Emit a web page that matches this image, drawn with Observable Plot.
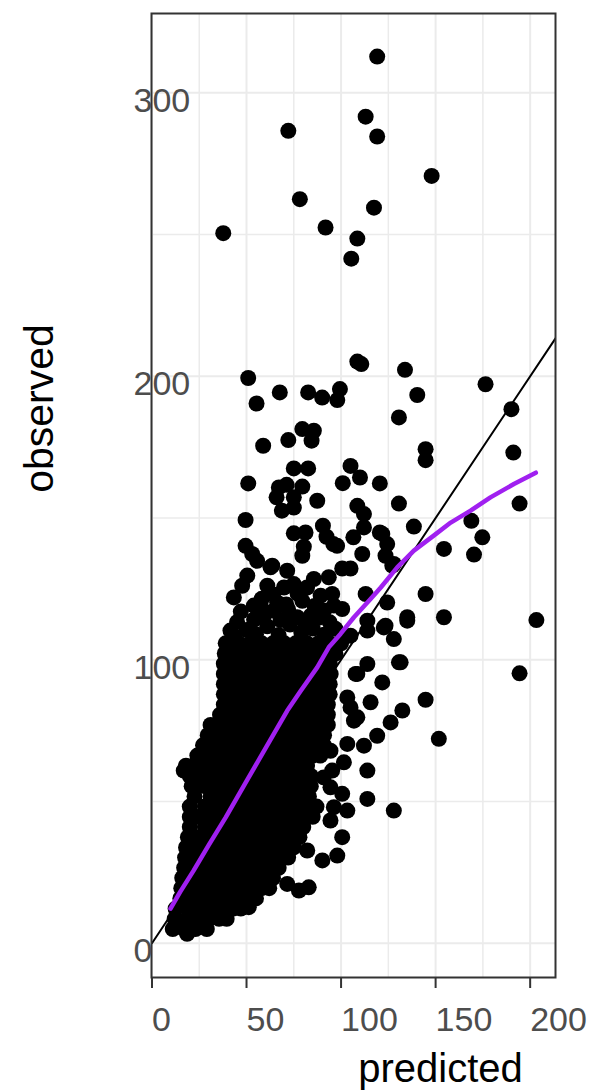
<!DOCTYPE html>
<html>
<head>
<meta charset="utf-8">
<script src="https://cdn.jsdelivr.net/npm/d3@7"></script>
<script src="https://cdn.jsdelivr.net/npm/@observablehq/plot@0.6"></script>
<style>
  html, body { margin: 0; padding: 0; background: #fff; }
  #chart svg { display: block; }
</style>
</head>
<body>
<div id="chart"></div>
<script>
// Axis breaks
const xMajor = [0, 50, 100, 150, 200];
const xMinor = [25, 75, 125, 175];
const yMajor = [0, 100, 200, 300];
const yMinor = [50, 150, 250];

// Dense part of the cloud: [observed, [predicted, ...]] per row
const coreRows = [
  [5.0, [11, 17, 23, 29]],
  [8.6, [12, 18.5, 24, 30, 35.5, 39.5]],
  [12.2, [12.5, 19, 25, 31, 37, 43, 47]],
  [15.8, [15, 21, 27, 33, 39, 45, 51, 55]],
  [19.4, [15.5, 22, 28, 34, 40, 46, 52, 58, 62]],
  [23.0, [16, 19, 25, 31, 37, 43, 49, 55, 61, 64]],
  [26.6, [17, 22, 28, 34, 40, 46, 52, 58, 64, 67]],
  [30.2, [17.5, 25, 31, 37, 43, 49, 55, 61, 67, 72]],
  [33.8, [18, 22, 28, 34, 40, 46, 52, 58, 64, 70, 75]],
  [37.4, [19, 25, 31, 37, 43, 49, 55, 61, 67, 73, 78]],
  [41.0, [20, 28, 34, 40, 46, 52, 58, 64, 70, 76, 80]],
  [44.6, [20, 25, 31, 37, 43, 49, 55, 61, 67, 73, 79, 85]],
  [48.2, [20, 28, 34, 40, 46, 52, 58, 64, 70, 76, 82, 87]],
  [51.8, [22.5, 31, 37, 43, 49, 55, 61, 67, 73, 79, 83]],
  [55.4, [21, 28, 34, 40, 46, 52, 58, 64, 70, 76, 82, 84]],
  [59.0, [20, 25, 31, 37, 43, 49, 55, 61, 67, 73, 79, 84]],
  [62.6, [18, 22, 28, 34, 40, 46, 52, 58, 64, 70, 76, 82]],
  [66.2, [24, 31, 37, 43, 49, 55, 61, 67, 73, 79, 85, 89]],
  [69.8, [27, 34, 40, 46, 52, 58, 64, 70, 76, 82, 88, 91]],
  [73.4, [29.5, 37, 43, 49, 55, 61, 67, 73, 79, 85, 91]],
  [77.0, [31, 34, 40, 46, 52, 58, 64, 70, 76, 82, 88, 93]],
  [80.6, [36, 43, 49, 55, 61, 67, 73, 79, 85, 91, 93]],
  [84.2, [38, 40, 46, 52, 58, 64, 70, 76, 82, 88, 93]],
  [87.8, [38, 43, 49, 55, 61, 67, 73, 79, 85, 91, 94]],
  [91.4, [38, 40, 46, 52, 58, 64, 70, 76, 82, 88, 94]],
  [95.0, [38, 43, 49, 55, 61, 67, 73, 79, 85, 91, 94.5]],
  [98.6, [38, 40, 46, 52, 58, 64, 70, 76, 82, 88, 94]],
  [102.2, [38.5, 43, 49, 55, 61, 67, 73, 79, 85, 91, 97]],
  [105.8, [39, 46, 52, 58, 64, 70, 76, 82, 88, 94, 100]]
];

// Sparser observations: [predicted, observed]
const sparse = [
  // upper edge of the dense cloud
  [43, 108.5], [50, 110.5], [55, 109], [61, 111.8], [67, 108.7], [73, 112.4], [79, 109.6],
  [85, 111], [91, 108.8], [97, 110.9], [101, 108.2], [54, 114.2], [60, 116.5], [68, 114],
  [72, 117.8], [81, 113.4], [88, 114.8], [94, 113.2], [58, 121.5], [71, 119.5], [86, 119],
  [91, 117.4], [64, 123], [77, 123.3], [82, 125.5], [47, 117], [45, 113.3],
  // scattered observations
  [119.1, 312.8], [113, 291.6], [119.1, 284.6], [72.1, 286.6], [147.9, 270.7],
  [78.2, 262.5], [117.4, 259.5], [91.8, 252.5], [37.7, 250.5], [108.6, 248.6], [105.4, 241.5],
  [108.6, 205.2], [110.7, 204.3], [133.8, 202.3], [50.9, 199.4], [140.3, 193.4],
  [67.6, 194.3], [82.6, 194.3], [55.3, 190.4], [90, 192.5], [99.4, 195.5], [98, 191.6],
  [130.6, 185.5], [79.5, 181.4], [85.6, 180.8], [84.4, 177.3], [58.8, 175.5], [72.1, 177.5],
  [144.7, 174.3], [144.7, 170.4], [75, 167.5], [82.6, 167.5], [105, 168.4], [110, 164.3],
  [50.9, 162.2], [67.1, 160.8], [71.2, 161.7], [79.5, 161.1], [100.9, 162.3], [120.5, 162.2],
  [65.9, 157.3], [75, 157.3], [87.4, 156.1], [68.7, 152.6], [75, 153.7], [130.6, 155.1],
  [108.6, 154.3], [49.5, 149.3], [112.1, 151.4], [90.4, 147.3], [75, 144.6], [81.2, 144.9],
  [95.9, 140.8], [92.3, 143.4], [106.5, 143.2], [112.1, 146.7], [120.5, 144.9], [138.5, 147.0],
  [49.5, 140.2], [80.3, 139.9], [79.5, 136.7], [124.4, 140.8], [154.4, 139.1], [111.2, 137.3],
  [123.5, 136.7], [53, 137.3], [55.6, 134.9], [63.6, 133.2], [71.5, 131.4], [100.6, 132.2],
  [105, 132.2], [127.1, 133.2], [50.4, 129.7], [85.6, 128.5], [93.5, 129.1], [47.7, 126.1],
  [61, 126.1], [69.8, 125.5], [75, 126.7], [43.3, 122], [89.2, 122.6], [95.3, 123.2],
  [113, 123.2], [144.7, 123.2], [57.4, 119.7], [66.2, 120.2], [79.5, 120.8], [124.4, 120.2],
  [100.6, 117.9], [135, 115], [154.4, 115], [55.6, 115], [84, 115.6], [113.9, 113.8],
  [123.5, 112], [41.5, 110.3],
  [97.9, 140.2], [62.7, 132.6], [96.2, 119.1], [53.9, 119.1], [64.4, 117.3], [76.8, 115],
  [127.9, 107.3], [105, 108.5], [113.9, 110.3], [131.5, 99.1], [107.7, 95], [105, 83.2],
  [106.8, 78.5], [127.9, 133.8], [121.8, 144.4],
  [176.4, 197.2], [190.1, 188.4], [191.1, 173.1], [194.4, 155.1], [168.9, 149],
  [174.7, 143.2], [170.3, 137.1], [203.3, 114], [194.4, 95.2],
  [130.6, 99.1], [113.9, 98.5], [108.6, 95], [121.8, 92], [144.7, 85.9], [132.4, 82.1],
  [115.6, 85], [126.2, 77.9], [119.1, 73.2], [151.7, 72.1], [112.1, 69.7], [103.3, 70.3],
  [108.6, 79.7], [103.3, 86.7], [113.9, 60.9], [101.5, 63.8], [95.3, 60.9], [113.9, 50.9],
  [127.9, 46.8], [100.6, 52.7], [94.4, 55], [103.3, 46.8], [96.2, 48], [94.4, 43.3],
  [100.6, 37.4], [98, 30.9], [90.1, 29.2], [82.1, 32.7], [82.9, 19.7], [77.7, 18.6],
  [71.5, 20.9], [51.2, 12.7], [94.4, 67.9], [90.8, 58.5], [16.8, 60.9], [18.6, 3.3],
  [122.6, 111.4], [135, 113.8]
];

// Loess fit of observed on predicted
const smooth = [
  [9.8, 12.2], [15, 18.2], [22, 25.6], [30, 34.6], [39, 44.4], [50, 57.2], [62, 71],
  [71.5, 82], [78.6, 89], [87.4, 97.3], [93.5, 104.4], [99.7, 109.1], [106.8, 115],
  [115.6, 121.4], [121, 125.5], [129.7, 132.6], [138.5, 138.5], [149, 143.8], [158, 148.4],
  [168.5, 152.6], [179, 157.3], [191.4, 162], [203, 166]
];

// y = x reference line
const identity = [0, 230];

const points = [
  ...coreRows.flatMap(([o, ps]) => ps.map(p => ({predicted: p, observed: o}))),
  ...sparse.map(([p, o]) => ({predicted: p, observed: o}))
];

const font = "'Liberation Sans', Arial, Helvetica, sans-serif";
const gridStyle = {stroke: "#ebebeb", strokeOpacity: 1};

const chart = Plot.plot({
  width: 590,
  height: 1090,
  marginLeft: 151,
  marginRight: 35,
  marginTop: 13,
  marginBottom: 113,
  style: {fontFamily: font, background: "#fff", overflow: "visible"},
  x: {domain: [-0.25, 213.4]},
  y: {domain: [-12.1, 328]},
  marks: [
    Plot.gridX(xMinor, {...gridStyle, strokeWidth: 1.5}),
    Plot.gridY(yMinor, {...gridStyle, strokeWidth: 1.5}),
    Plot.gridX(xMajor, {...gridStyle, strokeWidth: 2}),
    Plot.gridY(yMajor, {...gridStyle, strokeWidth: 2}),
    Plot.dot(points, {x: "predicted", y: "observed", r: 8, fill: "#000", stroke: null}),
    Plot.line(identity, {x: d => d, y: d => d, stroke: "#000", strokeWidth: 2, clip: true}),
    Plot.line(smooth, {x: d => d[0], y: d => d[1], stroke: "#a020f0", strokeWidth: 4.5}),
    Plot.frame({stroke: "#333", strokeWidth: 2}),
    Plot.axisX(xMajor, {
      tickSize: 11, tickPadding: 18, textAnchor: "start", fontSize: 34,
      stroke: "#333", strokeWidth: 2, fill: "#4d4d4d", label: null
    }),
    Plot.axisY(yMajor, {
      tickSize: 0, tickPadding: 18, textAnchor: "start", dy: 8, fontSize: 34,
      fill: "#4d4d4d", label: null
    }),
    Plot.text(["predicted"], {
      frameAnchor: "bottom", textAnchor: "middle", lineAnchor: "middle",
      dx: 87, dy: 92, fontSize: 40, fill: "#000"
    }),
    Plot.text(["observed"], {
      frameAnchor: "left", textAnchor: "middle", lineAnchor: "middle",
      rotate: -90, dx: -112, dy: -87, fontSize: 41, fill: "#000"
    })
  ]
});

document.getElementById("chart").append(chart);
</script>
</body>
</html>
